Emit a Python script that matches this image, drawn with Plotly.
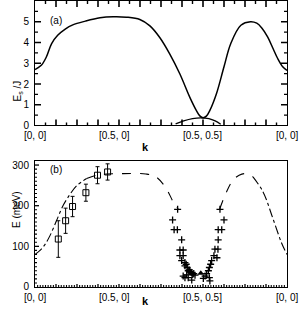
import plotly.graph_objects as go

# ---------------- data ----------------
kpt_labels = ["[0, 0]", "[0.5, 0]", "[0.5, 0.5]", "[0, 0]"]
kpt_pos = [0.0, 0.315, 0.664, 1.0]

# panel (a): main branch
a_k = [0.0, 0.025, 0.045, 0.066, 0.09, 0.12, 0.15, 0.2, 0.258, 0.31, 0.363, 0.416,
       0.456, 0.495, 0.535, 0.575, 0.614, 0.64, 0.655, 0.667, 0.68, 0.694, 0.72,
       0.75, 0.777, 0.817, 0.855, 0.88, 0.9, 0.923, 0.945, 0.963, 0.983, 1.0]
a_E = [2.7, 2.9, 3.3, 3.95, 4.35, 4.65, 4.85, 5.03, 5.19, 5.24, 5.22, 5.11,
       4.8, 4.24, 3.44, 2.48, 1.37, 0.73, 0.45, 0.37, 0.45, 0.73, 1.53,
       2.83, 3.95, 4.83, 5.0, 4.93, 4.7, 4.27, 3.7, 3.23, 2.83, 2.65]
# panel (a): lower dome
dome_k = [0.558, 0.59, 0.625, 0.657, 0.69, 0.715, 0.737]
dome_E = [0.08, 0.22, 0.33, 0.37, 0.33, 0.22, 0.06]

# panel (b): theory curve (meV)
b_left_k = [0.0, 0.02, 0.04, 0.06, 0.086, 0.112, 0.139, 0.165, 0.205, 0.245, 0.285,
            0.35, 0.44, 0.48, 0.52, 0.548, 0.568]
b_left_E = [80, 90, 105, 127, 164, 201, 228, 249, 267, 275, 278,
            279, 278, 271, 243, 210, 192]
b_right_k = [0.733, 0.76, 0.786, 0.81, 0.835, 0.865, 0.905, 0.945, 0.978, 1.0]
b_right_E = [192, 234, 263, 275, 279, 271, 234, 167, 109, 80]

# panel (b): squares with error bars
sq_k = [0.0925, 0.1215, 0.149, 0.202, 0.248, 0.288]
sq_E = [118, 163, 198, 232, 275, 283]
sq_err = [45, 31, 25, 21, 21, 20]

# panel (b): plus markers
plus_k = [0.566, 0.546, 0.552, 0.565, 0.582, 0.575, 0.588, 0.575, 0.588, 0.582,
          0.595, 0.595, 0.604, 0.608, 0.618, 0.626, 0.635, 0.588, 0.602, 0.608,
          0.595, 0.622, 0.600, 0.612, 0.630, 0.614, 0.622,
          0.734, 0.750, 0.727, 0.741, 0.727, 0.714, 0.726, 0.710, 0.722, 0.701,
          0.697, 0.692, 0.688, 0.681, 0.675, 0.692, 0.694, 0.668]
plus_E = [191, 165, 141, 141, 116, 91, 91, 77, 77, 65,
          60, 52, 48, 40, 36, 31, 29, 27, 30, 23,
          23, 17, 56, 42, 33, 38, 35,
          191, 165, 141, 141, 116, 93, 93, 77, 72, 65,
          56, 48, 40, 33, 27, 23, 15, 21]

tri_k = [0.658]
tri_E = [34]

# tick positions (axis decoration)
a_xmajor = [i / 12 for i in range(1, 12)]
a_xminor = [(2 * i + 1) / 24 for i in range(12)]
a_ymajor = [1, 2, 3, 4, 5]
a_yminor = [0.5, 1.5, 2.5, 3.5, 4.5, 5.5]
b_xmajor = [i / 12 for i in range(1, 12)]
b_xminor = [i / 96 for i in range(1, 96) if i % 8]
b_ymajor = [100, 200, 300]
b_yminor = [v for v in range(10, 310, 10) if v % 100]

# ---------------- figure ----------------
FONT = "Liberation Sans, Arial, sans-serif"
fig = go.Figure()

fig.add_trace(go.Scatter(x=a_k, y=a_E, mode="lines", line=dict(color="black", width=1.5, shape="spline"),
                         xaxis="x", yaxis="y", showlegend=False))
fig.add_trace(go.Scatter(x=dome_k, y=dome_E, mode="lines", line=dict(color="black", width=1.3, shape="spline"),
                         xaxis="x", yaxis="y", showlegend=False))


def seg(k, E, lo, hi):
    xs = [a for a in k if lo <= a <= hi]
    ys = [b for a, b in zip(k, E) if lo <= a <= hi]
    return xs, ys


for (k, E) in [(b_left_k, b_left_E), (b_right_k, b_right_E)]:
    for lo, hi, dash in [(0.0, 0.205, "dashdot"), (0.205, 0.6, "dash"), (0.7, 0.865, "dash"), (0.865, 1.0, "dashdot")]:
        xs, ys = seg(k, E, lo, hi)
        if len(xs) > 1:
            fig.add_trace(go.Scatter(x=xs, y=ys, mode="lines",
                                     line=dict(color="black", width=1.1, dash=dash, shape="spline"),
                                     xaxis="x2", yaxis="y2", showlegend=False))

fig.add_trace(go.Scatter(x=sq_k, y=sq_E, mode="markers",
                         marker=dict(symbol="square-open", size=6, color="black", line=dict(width=1, color="black")),
                         error_y=dict(type="data", array=sq_err, color="black", thickness=1, width=2),
                         xaxis="x2", yaxis="y2", showlegend=False))
fig.add_trace(go.Scatter(x=plus_k, y=plus_E, mode="markers",
                         marker=dict(symbol="cross-thin", size=5, color="black", line=dict(width=1.3, color="black")),
                         xaxis="x2", yaxis="y2", showlegend=False))
fig.add_trace(go.Scatter(x=tri_k, y=tri_E, mode="markers",
                         marker=dict(symbol="triangle-up", size=6, color="black"),
                         xaxis="x2", yaxis="y2", showlegend=False))


def ax(**kw):
    base = dict(showgrid=False, zeroline=False, showline=True, linecolor="black", linewidth=1,
                ticks="", tickfont=dict(family=FONT, size=10, color="black"))
    base.update(kw)
    return base


fig.update_layout(
    width=302, height=321,
    margin=dict(l=35, r=15, t=1, b=34, autoexpand=False),
    paper_bgcolor="white", plot_bgcolor="white",
    xaxis=ax(domain=[0, 1], anchor="y", range=[0, 1], showticklabels=False, mirror=True),
    yaxis=ax(domain=[0.5647, 1], anchor="x", range=[0, 6], tickvals=[0, 1, 2, 3, 4, 5], ticklabelstandoff=3,
             mirror=True),
    xaxis2=ax(domain=[0, 1], anchor="y2", range=[0, 1], showticklabels=False, mirror=True),
    yaxis2=ax(domain=[0, 0.4406], anchor="x2", range=[0, 310], tickvals=[0, 100, 200, 300], ticklabelstandoff=3,
              mirror=True),
)

# tick marks as pixel-sized line shapes anchored on the axes
shapes = []


def xticks(xref, yref, vals, length, both, w):
    for v in vals:
        shapes.append(dict(type="line", xref=xref, yref=yref + " domain", x0=v, x1=v,
                           ysizemode="pixel", yanchor=0, y0=0, y1=length,
                           line=dict(color="black", width=w)))
        if both:
            shapes.append(dict(type="line", xref=xref, yref=yref + " domain", x0=v, x1=v,
                               ysizemode="pixel", yanchor=1, y0=0, y1=-length,
                               line=dict(color="black", width=w)))


def yticks(xref, yref, vals, length, both, w):
    for v in vals:
        shapes.append(dict(type="line", xref=xref + " domain", yref=yref, y0=v, y1=v,
                           xsizemode="pixel", xanchor=0, x0=0, x1=length,
                           line=dict(color="black", width=w)))
        if both:
            shapes.append(dict(type="line", xref=xref + " domain", yref=yref, y0=v, y1=v,
                               xsizemode="pixel", xanchor=1, x0=0, x1=-length,
                               line=dict(color="black", width=w)))


xticks("x", "y", a_xmajor, 6, True, 1.6)
xticks("x", "y", a_xminor, 3, True, 1.4)
yticks("x", "y", a_ymajor, 6, True, 1.6)
yticks("x", "y", a_yminor, 3, True, 1.4)
xticks("x2", "y2", b_xmajor, 3, False, 1.3)
xticks("x2", "y2", b_xminor, 2, False, 1.1)
yticks("x2", "y2", b_ymajor, 4, False, 1.3)
yticks("x2", "y2", b_yminor, 2, False, 1.1)

ann = []
for lab, pos in zip(kpt_labels, kpt_pos):
    ann.append(dict(x=pos, xref="x", y=0.528, yref="paper", text=lab, showarrow=False,
                    yanchor="middle", xanchor="center", font=dict(family=FONT, size=10, color="black")))
    ann.append(dict(x=pos, xref="x2", y=-0.038, yref="paper", text=lab, showarrow=False,
                    yanchor="middle", xanchor="center", font=dict(family=FONT, size=10, color="black")))
ann += [
    dict(x=0.437, xref="paper", y=0.49, yref="paper", text="<b>k</b>", showarrow=False,
         font=dict(family=FONT, size=11, color="black")),
    dict(x=0.437, xref="paper", y=-0.077, yref="paper", text="<b>k</b>", showarrow=False,
         font=dict(family=FONT, size=11, color="black")),
    dict(x=-0.103, xref="paper", y=(287 - 79) / 286, yref="paper", text="E<sub>s</sub> /J", textangle=-90,
         showarrow=False, font=dict(family=FONT, size=10, color="black")),
    dict(x=-0.103, xref="paper", y=(287 - 230) / 286, yref="paper", text="E (meV)", textangle=-90,
         showarrow=False, font=dict(family=FONT, size=10, color="black")),
    dict(x=(47.5 - 35) / 252, xref="paper", y=(287 - 13) / 286, yref="paper", text="(a)", showarrow=False,
         font=dict(family=FONT, size=10, color="black")),
    dict(x=(47.5 - 35) / 252, xref="paper", y=(287 - 170) / 286, yref="paper", text="(b)", showarrow=False,
         font=dict(family=FONT, size=10, color="black")),
]
fig.update_layout(annotations=ann, shapes=shapes)

fig.write_html("out.html", config={"displayModeBar": False},
               post_script="document.body.style.margin='0';document.body.style.padding='0';")
